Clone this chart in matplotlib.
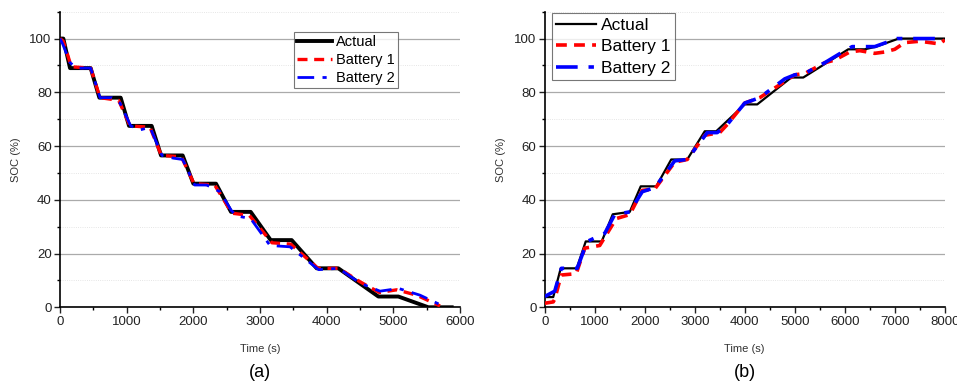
import matplotlib
matplotlib.use('Agg')
import matplotlib.pyplot as plt
from matplotlib.ticker import MultipleLocator

plt.rcParams['font.family'] = ['Liberation Sans', 'DejaVu Sans']

# (a) discharge
t_act_a = [0, 50, 150, 460, 590, 910, 1035, 1375, 1515, 1840, 2000, 2340, 2565, 2860,
           3160, 3475, 3850, 4175, 4775, 5075, 5525, 5875]
soc_act_a = [100, 100, 89, 89, 78, 78, 67.5, 67.5, 56.5, 56.5, 46, 46, 35.5, 35.5,
             25, 25, 14.5, 14.5, 4, 4, 0, 0]
t_b1_a = [0, 50, 170, 460, 600, 880, 1050, 1350, 1520, 1820, 2010, 2320, 2580, 2840,
          3180, 3460, 3870, 4180, 4500, 4790, 5050, 5350, 5700]
soc_b1_a = [100, 99, 89.5, 89, 78, 77, 67.5, 67, 56.5, 56, 46, 45.5, 35, 34.2,
            24, 23.5, 14.5, 14.5, 9.5, 5.5, 6.5, 4.5, 0.5]
t_b2_a = [0, 40, 150, 260, 460, 600, 780, 900, 1060, 1200, 1350, 1530, 1700, 1840,
          2020, 2200, 2400, 2570, 2650, 2860, 3150, 3450, 3880, 4180, 4500, 4800,
          5080, 5400, 5700]
soc_b2_a = [100, 98, 91, 89, 89, 78, 78, 76, 67.5, 66, 67, 56.5, 55.5, 55,
            45.5, 45.5, 43, 36, 34, 33, 23, 22.5, 14, 14.5, 9, 6, 7, 4.5, 1]

# (b) charge
t_act_b = [0, 170, 320, 640, 820, 1140, 1360, 1700, 1920, 2230, 2530, 2850, 3200,
           3430, 4000, 4250, 4930, 5170, 6070, 6400, 6630, 7080, 8000]
soc_act_b = [3.8, 3.8, 14.5, 14.5, 24.5, 24.5, 34.6, 35.5, 45, 45, 55, 55, 65.5,
             65.5, 75.5, 75.5, 85.5, 85.5, 96, 96, 97, 100, 100]
t_b1_b = [0, 170, 200, 330, 630, 800, 1100, 1430, 1700, 1950, 2200, 2600, 2850,
          3200, 3500, 3650, 4000, 4300, 4800, 5000, 5200, 5600, 5800, 6100, 6300,
          6600, 6800, 7000, 7200, 7500, 7900, 8000]
soc_b1_b = [1.5, 2, 3, 12, 12.5, 22, 23, 33, 34.5, 43.5, 44, 54, 55, 64, 65, 68,
            76, 78, 84, 86.5, 87, 91, 92, 95, 95.5, 94.5, 95, 96, 98.5, 99, 98, 99.5]
t_b2_b = [0, 200, 333, 650, 850, 1200, 1400, 1700, 1950, 2200, 2600, 2850, 3250,
          3450, 3650, 4000, 4300, 4800, 5000, 5200, 5600, 6000, 6150, 6600, 7050, 8000]
soc_b2_b = [4, 6, 14.5, 14.5, 24.5, 27.5, 34.5, 35.5, 43, 44.5, 54.5, 55, 65, 65,
            68, 76, 78, 85, 86.5, 87, 91, 95.5, 97, 97, 100, 100]

fig = plt.figure(figsize=(9.57, 3.83), dpi=100)
ax1 = fig.add_axes([0.0627, 0.1977, 0.418, 0.7718])
ax2 = fig.add_axes([0.5692, 0.1977, 0.418, 0.7718])

ax1.plot(t_act_a, soc_act_a, color='black', lw=2.8, label='Actual', zorder=3)
ax1.plot(t_b1_a, soc_b1_a, color='red', lw=2.4, ls=(0, (3, 2)), label='Battery 1', zorder=4)
ax1.plot(t_b2_a, soc_b2_a, color='blue', lw=2.0, ls=(0, (6, 3, 1.5, 3)), label='Battery 2', zorder=5)

ax2.plot(t_act_b, soc_act_b, color='black', lw=1.6, label='Actual', zorder=3)
ax2.plot(t_b1_b, soc_b1_b, color='red', lw=2.6, ls=(0, (3, 2)), label='Battery 1', zorder=4)
ax2.plot(t_b2_b, soc_b2_b, color='blue', lw=2.6, ls=(0, (6, 3, 1.5, 3)), label='Battery 2', zorder=5)

for ax, xmax, tag in [(ax1, 6000, '(a)'), (ax2, 8000, '(b)')]:
    ax.set_xlim(0, xmax)
    ax.set_ylim(0, 110)
    ax.xaxis.set_major_locator(MultipleLocator(1000))
    ax.xaxis.set_minor_locator(MultipleLocator(500))
    ax.set_yticks([0, 20, 40, 60, 80, 100])
    ax.yaxis.set_minor_locator(MultipleLocator(10))
    ax.grid(axis='y', which='major', color='#aaaaaa', lw=0.9)
    ax.grid(axis='y', which='minor', color='#dddddd', lw=0.6, ls=':')
    ax.spines['top'].set_visible(False)
    ax.spines['right'].set_visible(False)
    ax.spines['left'].set_linewidth(1.2)
    ax.spines['bottom'].set_linewidth(1.2)
    ax.tick_params(which='major', length=4, width=1, labelsize=9.5, colors='#222222', pad=2)
    ax.tick_params(which='minor', length=2.5, width=1)
    ax.set_xlabel('Time (s)', fontsize=8, color='#333333', labelpad=12)
    ax.set_ylabel('SOC (%)', fontsize=8, color='#333333', labelpad=6)
    ax.text(0.5, -0.22, tag, transform=ax.transAxes, ha='center', va='center', fontsize=13)

leg1 = ax1.legend(loc='upper left', bbox_to_anchor=(0.585, 0.93), fontsize=10.5,
                  frameon=True, fancybox=False, edgecolor='#555555', handlelength=2.4,
                  handletextpad=0.3, borderpad=0.2, labelspacing=0.28, borderaxespad=0)
leg1.get_frame().set_linewidth(0.8)
leg2 = ax2.legend(loc='upper left', bbox_to_anchor=(0.017, 0.995), fontsize=12.5,
                  frameon=True, fancybox=False, edgecolor='#555555', handlelength=2.3,
                  handletextpad=0.3, borderpad=0.25, labelspacing=0.38, borderaxespad=0)
leg2.get_frame().set_linewidth(0.8)

fig.savefig('out.png', dpi=100)
